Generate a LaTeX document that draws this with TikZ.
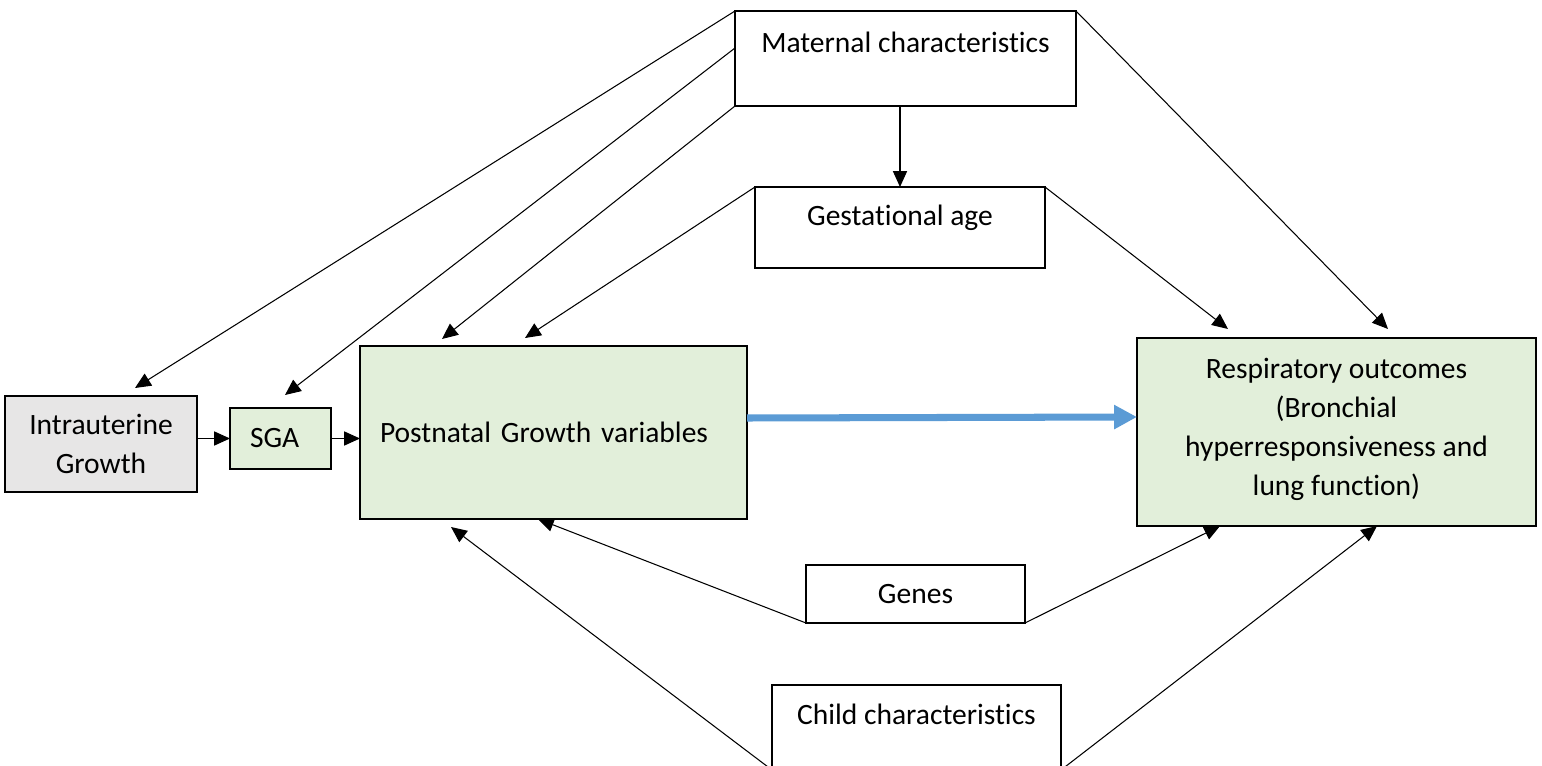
\documentclass[tikz,border=0pt]{standalone}
\usepackage{fontspec}
\setmainfont[Ligatures=NoCommon]{Carlito}
\usetikzlibrary{arrows.meta,calc}
\definecolor{lightgreen}{HTML}{E2EFDA}
\definecolor{lightgray}{HTML}{E7E6E6}
\definecolor{arrowblue}{HTML}{5B9BD5}

\begin{document}
\begin{tikzpicture}[x=0.02cm,y=0.02cm,
        font=\fontsize{16.8}{22.2}\selectfont,
        box/.style={draw,line width=0.9pt,inner sep=0pt,outer sep=0pt,align=center},
        boxsize/.style 2 args={minimum width=#1*0.02cm,minimum height=#2*0.02cm},
        greenbox/.style={box,fill=lightgreen},
        leftbox/.style={align=left,inner xsep=0.4cm,text width=#1*0.02cm},
        link/.style={-{Triangle[length=9pt,width=8pt]},line width=0.6pt},
        mainlink/.style={-{Triangle[length=13pt,width=13pt]},line width=4pt,draw=arrowblue}]
        \useasboundingbox (0,0) rectangle (1542,765);

        \node[box,boxsize={341}{95},label={[yshift=16.5*0.02cm]center:Maternal characteristics}] (mat) at (905.5,706.5) {};
        \node[box,boxsize={290}{81},label={[yshift=9.5*0.02cm]center:Gestational age}] (gest) at (900,537.5) {};
        \node[box,boxsize={192}{96},fill=lightgray] (iu) at (101,321) {Intrauterine\\Growth};
        \node[greenbox,boxsize={101}{61},leftbox=61] (sga) at (280.5,326.5) {SGA};
        \node[greenbox,boxsize={387}{173},leftbox=347] (post) at (553.5,332.5) {Postnatal Growth variables};
        \node[greenbox,boxsize={399}{188},label={[yshift=3*0.02cm,align=center]center:Respiratory outcomes\\(Bronchial\\hyperresponsiveness and\\lung function)}] (resp) at (1336.5,333) {};
        \node[box,boxsize={219}{58}] (genes) at (915.5,171) {Genes};
        \node[box,boxsize={289}{85},label={[yshift=13.5*0.02cm]center:Child characteristics}] (child) at (916.5,37.5) {};

        \draw[link] (mat.north west) -- ($(iu.north)+(34,8)$);
        \draw[link] ($(mat.north west)+(0,-37)$) -- ($(sga.north)+(4.5,13)$);
        \draw[link] (mat.south west) -- ($(post.north)+(-111.5,7)$);
        \draw[link] (gest.north |- mat.south) -- (gest.north);
        \draw[link] (mat.north east) -- ($(resp.north)+(51.5,9)$);
        \draw[link] (gest.north west) -- ($(post.north)+(-28.5,8)$);
        \draw[link] (gest.north east) -- ($(resp.north)+(-108.5,9)$);
        \draw[link] (iu.east |- sga.west) -- (sga.west);
        \draw[link] (sga.east) -- (post.west |- sga.east);
        \draw[mainlink] ($(post.east)+(0,14.5)$) -- ($(resp.west)+(0,15)$);
        \draw[link] (genes.south west) -- ($(post.south)+(-15.5,0)$);
        \draw[link] (genes.south east) -- ($(resp.south)+(-116.5,0)$);
        \draw[link] (child.south west) -- ($(post.south)+(-102.5,-8)$);
        \draw[link] (child.south east) -- ($(resp.south)+(40.5,0)$);
\end{tikzpicture}
\end{document}
